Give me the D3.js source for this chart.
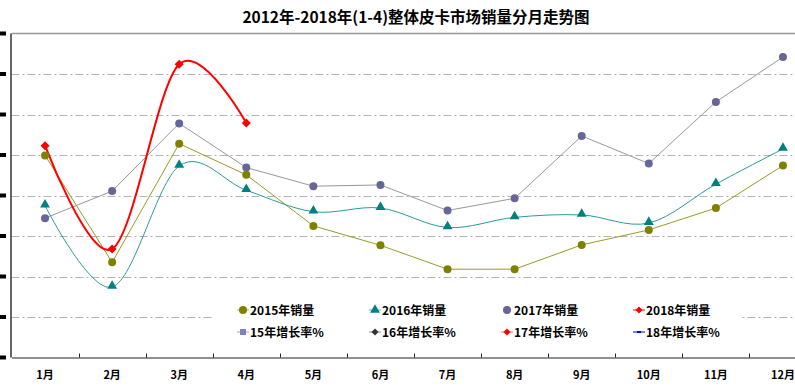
<!DOCTYPE html>
<html lang="zh">
<head>
    <meta charset="UTF-8">
    <title>皮卡市场销量分月走势图</title>
    <script src="https://cdn.jsdelivr.net/npm/d3@7"></script>
    <style>
        html, body {
            margin: 0;
            padding: 0;
            background: #fff;
            overflow: hidden;
        }
        svg text {
            font-family: "Noto Sans CJK SC", "Noto Sans", sans-serif;
            font-weight: bold;
            fill: #000;
        }
        .grid line {
            stroke: #b4b4b4;
            stroke-width: 1px;
            stroke-dasharray: 8, 3, 2, 3;
        }
    </style>
</head>
<body>
<script>
    const months = ['1月', '2月', '3月', '4月', '5月', '6月', '7月', '8月', '9月', '10月', '11月', '12月'];

    const sales2015 = [49900, 23500, 52800, 45100, 32500, 27700, 21800, 21800, 27800, 31500, 36900, 47400];
    const sales2016 = [37500, 17400, 47300, 41300, 36000, 36900, 32100, 34600, 35200, 33200, 42800, 51500];
    const sales2017 = [34400, 41100, 57800, 46900, 42300, 42600, 36300, 39300, 54700, 47900, 63100, 74200];
    const sales2018 = [52300, 26800, 72400, 57900];

    const yTicks = [0, 10000, 20000, 30000, 40000, 50000, 60000, 70000, 80000];

    const width = 795;
    const height = 389;
    const margin = {top: 33.5, left: 11.5, bottom: 31.5};
    const plotW = 805;

    let svg = d3.select('body').append('svg')
        .attr('width', width)
        .attr('height', height);

    let x = d3.scaleBand()
        .domain(months)
        .range([margin.left, margin.left + plotW]);

    let xc = m => x(m) + x.bandwidth() / 2;

    let y = d3.scaleLinear()
        .domain([0, 80000])
        .range([height - margin.bottom, margin.top]);

    // 菱形标记（旋转的正方形）
    const diamond = r => `M0,${-r}L${r},0L0,${r}L${-r},0Z`;

    // 标题
    svg.append('text')
        .attr('x', 416)
        .attr('y', 23)
        .attr('text-anchor', 'middle')
        .style('font-size', '15.5px')
        .text('2012年-2018年(1-4)整体皮卡市场销量分月走势图');

    // 网格线
    svg.append('g')
        .classed('grid', true)
        .selectAll('line')
        .data(yTicks.slice(1, -1)).enter()
        .append('line')
        .attr('x1', margin.left)
        .attr('x2', width)
        .attr('y1', d => Math.round(y(d)) + 0.5)
        .attr('y2', d => Math.round(y(d)) + 0.5);

    // 顶部边框
    svg.append('line')
        .attr('x1', margin.left).attr('x2', width)
        .attr('y1', y(80000)).attr('y2', y(80000))
        .attr('stroke', '#999').attr('stroke-width', 1.5);

    // 左侧被裁剪的刻度标签
    svg.append('g')
        .selectAll('rect')
        .data(yTicks).enter()
        .append('rect')
        .attr('x', 0)
        .attr('y', d => y(d) - 2)
        .attr('width', 6)
        .attr('height', 4)
        .attr('fill', '#000');

    // 坐标轴
    svg.append('line')
        .attr('x1', 11).attr('x2', 11)
        .attr('y1', margin.top).attr('y2', y(0))
        .attr('stroke', '#666').attr('stroke-width', 2);

    let xAxis = svg.append('g')
        .attr('transform', `translate(0,${y(0)})`)
        .call(d3.axisBottom(x).tickSize(0).tickPadding(14));
    xAxis.select('.domain').attr('stroke', '#222').attr('stroke-width', 1.2);
    xAxis.selectAll('text').style('font-size', '11px').style('font-family', '"Noto Sans CJK SC", sans-serif');

    // 分类边界刻度
    svg.append('g')
        .selectAll('line')
        .data(months.slice(1)).enter()
        .append('line')
        .attr('x1', d => Math.round(x(d)) + 0.5)
        .attr('x2', d => Math.round(x(d)) + 0.5)
        .attr('y1', y(0))
        .attr('y2', y(0) - 4)
        .attr('stroke', '#222');

    // 图例背景（遮住网格线）
    svg.append('rect')
        .attr('x', 213).attr('y', 292)
        .attr('width', 528).attr('height', 54)
        .attr('fill', '#fff');

    const straight = d3.line().x((d, i) => xc(months[i])).y(d => y(d));
    const smooth = d3.line().x((d, i) => xc(months[i])).y(d => y(d)).curve(d3.curveCardinal.tension(0));

    const tri = d3.symbol().type(d3.symbolTriangle).size(42);

    // 2017 灰线
    svg.append('path').datum(sales2017)
        .attr('d', straight).attr('fill', 'none')
        .attr('stroke', '#999').attr('stroke-width', 1);

    // 2015 橄榄线
    svg.append('path').datum(sales2015)
        .attr('d', straight).attr('fill', 'none')
        .attr('stroke', '#9a9a2a').attr('stroke-width', 1);

    // 2016 青色平滑线
    svg.append('path').datum(sales2016)
        .attr('d', smooth).attr('fill', 'none')
        .attr('stroke', '#2a9a9a').attr('stroke-width', 1);

    // 2018 红色平滑线
    svg.append('path').datum(sales2018)
        .attr('d', smooth).attr('fill', 'none')
        .attr('stroke', '#ff0000').attr('stroke-width', 2);

    svg.append('g').selectAll('circle')
        .data(sales2017).enter().append('circle')
        .attr('cx', (d, i) => xc(months[i])).attr('cy', d => y(d))
        .attr('r', 4).attr('fill', '#666699');

    svg.append('g').selectAll('circle')
        .data(sales2015).enter().append('circle')
        .attr('cx', (d, i) => xc(months[i])).attr('cy', d => y(d))
        .attr('r', 4).attr('fill', '#808000');

    svg.append('g').selectAll('path')
        .data(sales2016).enter().append('path')
        .attr('transform', (d, i) => `translate(${xc(months[i])},${y(d) - 1})`)
        .attr('d', tri).attr('fill', '#008080');

    svg.append('g').selectAll('path')
        .data(sales2018).enter().append('path')
        .attr('transform', (d, i) => `translate(${xc(months[i])},${y(d)})`)
        .attr('d', diamond(4.5)).attr('fill', '#ff0000');

    // 图例
    const legendItems = [
        {name: '2015年销量', color: '#808000', line: '#b0b060', shape: 'circle', row: 0, col: 0},
        {name: '2016年销量', color: '#008080', line: '#60b0b0', shape: 'triangle', row: 0, col: 1},
        {name: '2017年销量', color: '#666699', line: null, shape: 'circle', row: 0, col: 2},
        {name: '2018年销量', color: '#ff0000', line: '#ff0000', shape: 'diamond', row: 0, col: 3},
        {name: '15年增长率%', color: '#8080c0', line: '#a0a0d0', shape: 'square', row: 1, col: 0},
        {name: '16年增长率%', color: '#333', line: '#888', shape: 'diamond', row: 1, col: 1},
        {name: '17年增长率%', color: '#ff0000', line: '#ff6060', shape: 'diamond', row: 1, col: 2},
        {name: '18年增长率%', color: '#0000ff', line: '#8080ff', shape: 'none', row: 1, col: 3}
    ];

    let legend = svg.append('g').selectAll('g')
        .data(legendItems).enter()
        .append('g')
        .attr('transform', d => `translate(${243 + d.col * 132},${310 + d.row * 22})`);

    legend.filter(d => d.line).append('line')
        .attr('x1', -6).attr('x2', 6)
        .attr('stroke', d => d.line).attr('stroke-width', d => d.shape === 'none' ? 2 : 1);

    legend.each(function (d) {
        let g = d3.select(this);
        if (d.shape === 'circle') {
            g.append('circle').attr('r', 4).attr('fill', d.color);
        } else if (d.shape === 'triangle') {
            g.append('path').attr('d', tri).attr('fill', d.color);
        } else if (d.shape === 'diamond') {
            g.append('path').attr('d', diamond(3.5)).attr('fill', d.color);
        } else if (d.shape === 'square') {
            g.append('rect').attr('x', -3).attr('y', -3).attr('width', 6).attr('height', 6).attr('fill', d.color);
        } else {
            g.append('line').attr('x1', -2).attr('x2', 2).attr('stroke', d.color).attr('stroke-width', 2);
        }
    });

    legend.append('text')
        .attr('x', 7)
        .attr('y', 4.5)
        .style('font-size', '12px')
        .text(d => d.name);
</script>
</body>
</html>
